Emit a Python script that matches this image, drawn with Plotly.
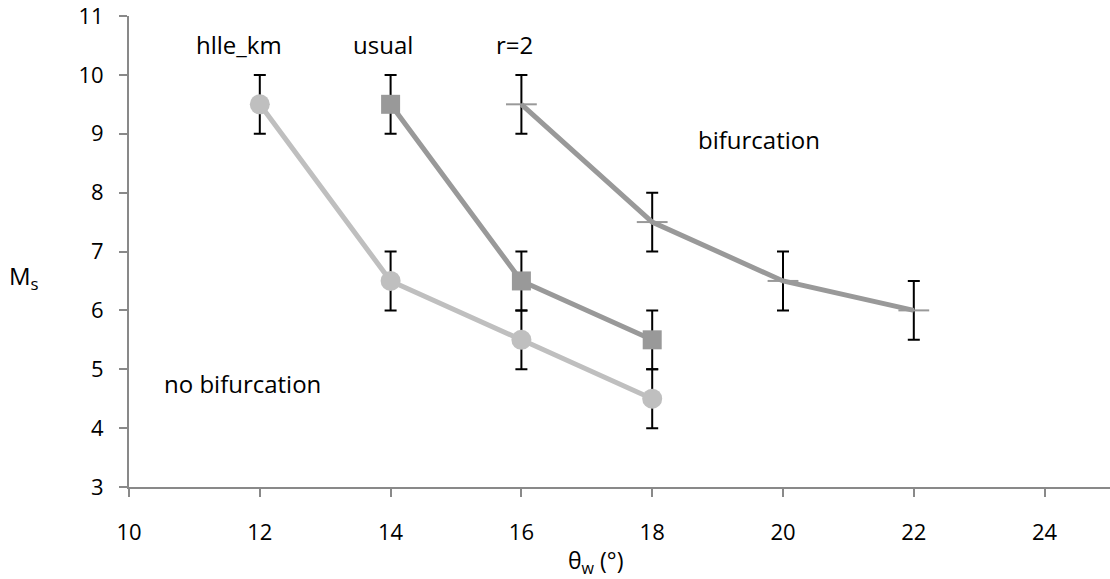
import plotly.graph_objects as go

hlle_x = [12, 14, 16, 18]
hlle_y = [9.5, 6.5, 5.5, 4.5]
usual_x = [14, 16, 18]
usual_y = [9.5, 6.5, 5.5]
r2_x = [16, 18, 20, 22]
r2_y = [9.5, 7.5, 6.5, 6.0]
err = 0.5

x_ticks = [10, 12, 14, 16, 18, 20, 22, 24]
y_ticks = [3, 4, 5, 6, 7, 8, 9, 10, 11]

font = "'Open Sans', Lato, sans-serif"
FS_TICK = 22
FS_TXT = 24

fig = go.Figure()

def add(xs, ys, color, symbol, msize, mline=None):
    fig.add_trace(go.Scatter(
        x=xs, y=ys, mode="lines+markers",
        line=dict(color=color, width=5),
        marker=dict(symbol=symbol, size=msize, color=color,
                    line=mline if mline else dict(width=0)),
        error_y=dict(type="constant", value=err, color="black", thickness=2, width=6),
        showlegend=False,
    ))

add(hlle_x, hlle_y, "#bfbfbf", "circle", 20)
add(usual_x, usual_y, "#999999", "square", 19)
add(r2_x, r2_y, "#999999", "line-ew", 22, dict(width=2, color="#999999"))

annots = [
    (11.68, 10.51, "hlle_km"),
    (13.88, 10.51, "usual"),
    (15.89, 10.51, "r=2"),
    (19.63, 8.90, "bifurcation"),
    (11.74, 4.76, "no bifurcation"),
]
for ax_, ay_, t in annots:
    fig.add_annotation(x=ax_, y=ay_, text=t, showarrow=False, xref="x", yref="y",
                       font=dict(family=font, size=FS_TXT, color="black"))

fig.add_annotation(x=-0.107, y=0.446, xref="paper", yref="paper", text="M<sub>s</sub>",
                   showarrow=False, xanchor="center", yanchor="middle",
                   font=dict(family=font, size=FS_TXT, color="black"))
fig.add_annotation(x=0.476, y=-0.158, xref="paper", yref="paper", text="θ<sub>w</sub> (°)",
                   showarrow=False, xanchor="center", yanchor="middle",
                   font=dict(family=font, size=23, color="black"))

fig.update_layout(
    width=1110, height=579,
    margin=dict(l=129, r=0, t=14, b=92),
    plot_bgcolor="white", paper_bgcolor="white",
    font=dict(family=font, size=FS_TICK, color="black"),
)

fig.update_xaxes(
    range=[10, 25], tickvals=x_ticks, showgrid=False, zeroline=False,
    showline=True, linecolor="#898989", linewidth=2,
    ticks="outside", ticklen=8, tickcolor="#898989", tickwidth=2,
    ticklabelstandoff=17, tickfont=dict(family=font, size=FS_TICK),
    ticklabeloverflow="allow",
)
fig.update_yaxes(
    range=[3, 11], tickvals=y_ticks, showgrid=False, zeroline=False,
    showline=True, linecolor="#898989", linewidth=2,
    ticks="outside", ticklen=8, tickcolor="#898989", tickwidth=2,
    ticklabelstandoff=11, tickfont=dict(family=font, size=FS_TICK),
    ticklabeloverflow="allow",
)

fig.write_html("out.html")
